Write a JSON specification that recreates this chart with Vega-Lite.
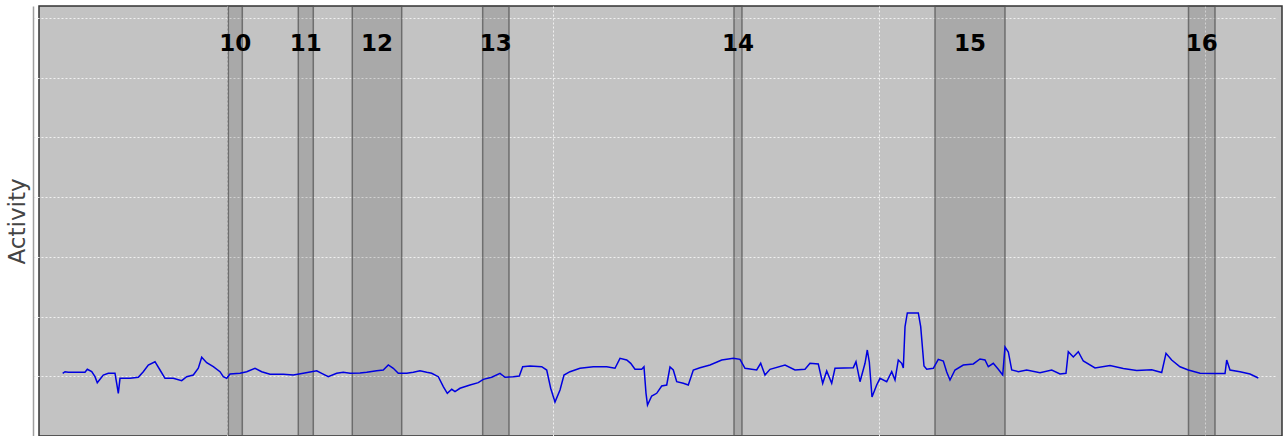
{
  "$schema": "https://vega.github.io/schema/vega-lite/v6.json",
  "width": 1243,
  "height": 430,
  "autosize": {"type": "none"},
  "padding": {"left": 39, "top": 6, "right": 2, "bottom": 0},
  "background": "#ffffff",
  "config": {
    "view": {"fill": "#c3c3c3", "stroke": "#333333", "strokeWidth": 1.5},
    "axisX": {"labels": false, "ticks": false, "domain": false, "grid": true, "gridColor": "#f0f0f0", "gridDash": [2, 2], "gridWidth": 1},
    "axisY": {"labels": false, "ticks": false, "domain": true, "domainColor": "#a0a0a0", "domainWidth": 1.5, "offset": 6, "grid": true, "gridColor": "#f0f0f0", "gridDash": [2, 2], "gridWidth": 1, "titleFont": "DejaVu Sans", "titleFontSize": 23, "titleFontWeight": "normal", "titleColor": "#444444", "titlePadding": 4}
  },
  "datasets": {
    "bands": [
      {"label": "10", "start": 100.25, "end": 104.54, "mid": 102.4},
      {"label": "11", "start": 121.72, "end": 126.32, "mid": 124.02},
      {"label": "12", "start": 138.28, "end": 153.44, "mid": 145.86},
      {"label": "13", "start": 178.28, "end": 186.35, "mid": 182.32},
      {"label": "14", "start": 255.37, "end": 257.82, "mid": 256.6},
      {"label": "15", "start": 317.03, "end": 338.5, "mid": 327.77},
      {"label": "16", "start": 394.79, "end": 402.92, "mid": 398.86}
    ],
    "activity": [
      {"t": 49.45, "v": 1.050}, {"t": 50.16, "v": 1.077}, {"t": 51.17, "v": 1.067}, {"t": 56.29, "v": 1.067},
      {"t": 57.00, "v": 1.117}, {"t": 58.35, "v": 1.077}, {"t": 59.36, "v": 0.993}, {"t": 60.06, "v": 0.893},
      {"t": 60.89, "v": 0.949}, {"t": 61.90, "v": 1.021}, {"t": 63.44, "v": 1.050}, {"t": 65.49, "v": 1.050},
      {"t": 66.01, "v": 0.882}, {"t": 66.51, "v": 0.715}, {"t": 67.03, "v": 0.966}, {"t": 70.09, "v": 0.966},
      {"t": 72.64, "v": 0.983}, {"t": 74.17, "v": 1.077}, {"t": 75.71, "v": 1.189}, {"t": 77.76, "v": 1.244},
      {"t": 79.30, "v": 1.105}, {"t": 80.83, "v": 0.966}, {"t": 83.38, "v": 0.966}, {"t": 85.95, "v": 0.926},
      {"t": 87.49, "v": 0.993}, {"t": 89.51, "v": 1.021}, {"t": 91.05, "v": 1.134}, {"t": 92.09, "v": 1.318},
      {"t": 93.62, "v": 1.227}, {"t": 95.65, "v": 1.160}, {"t": 97.70, "v": 1.077}, {"t": 98.71, "v": 0.993},
      {"t": 99.76, "v": 0.966}, {"t": 100.77, "v": 1.038}, {"t": 103.84, "v": 1.050}, {"t": 105.89, "v": 1.077},
      {"t": 108.44, "v": 1.134}, {"t": 110.49, "v": 1.077}, {"t": 113.04, "v": 1.033}, {"t": 117.12, "v": 1.033},
      {"t": 120.19, "v": 1.021}, {"t": 123.25, "v": 1.050}, {"t": 127.37, "v": 1.093}, {"t": 128.90, "v": 1.050},
      {"t": 130.92, "v": 0.993}, {"t": 133.50, "v": 1.050}, {"t": 135.52, "v": 1.067}, {"t": 137.58, "v": 1.050},
      {"t": 140.65, "v": 1.055}, {"t": 142.70, "v": 1.067}, {"t": 145.77, "v": 1.093}, {"t": 147.79, "v": 1.105},
      {"t": 149.33, "v": 1.189}, {"t": 150.86, "v": 1.134}, {"t": 152.39, "v": 1.050}, {"t": 154.97, "v": 1.050},
      {"t": 157.00, "v": 1.067}, {"t": 159.05, "v": 1.093}, {"t": 161.11, "v": 1.067}, {"t": 162.64, "v": 1.050},
      {"t": 164.67, "v": 0.993}, {"t": 166.20, "v": 0.826}, {"t": 167.43, "v": 0.715}, {"t": 168.78, "v": 0.782},
      {"t": 169.79, "v": 0.742}, {"t": 171.32, "v": 0.799}, {"t": 174.39, "v": 0.854}, {"t": 176.93, "v": 0.893},
      {"t": 178.47, "v": 0.949}, {"t": 181.05, "v": 0.983}, {"t": 183.59, "v": 1.050}, {"t": 185.13, "v": 0.983},
      {"t": 187.67, "v": 0.993}, {"t": 189.51, "v": 1.005}, {"t": 190.55, "v": 1.160}, {"t": 192.79, "v": 1.172},
      {"t": 196.38, "v": 1.160}, {"t": 197.92, "v": 1.105}, {"t": 199.14, "v": 0.799}, {"t": 200.46, "v": 0.569},
      {"t": 202.00, "v": 0.770}, {"t": 203.22, "v": 1.021}, {"t": 205.06, "v": 1.077}, {"t": 208.13, "v": 1.134},
      {"t": 212.21, "v": 1.160}, {"t": 216.32, "v": 1.160}, {"t": 218.87, "v": 1.134}, {"t": 220.40, "v": 1.301},
      {"t": 222.46, "v": 1.273}, {"t": 223.69, "v": 1.217}, {"t": 225.00, "v": 1.117}, {"t": 227.06, "v": 1.117},
      {"t": 227.76, "v": 1.160}, {"t": 228.38, "v": 0.715}, {"t": 228.84, "v": 0.519}, {"t": 230.12, "v": 0.670},
      {"t": 231.66, "v": 0.715}, {"t": 233.19, "v": 0.837}, {"t": 234.73, "v": 0.854}, {"t": 235.74, "v": 1.155},
      {"t": 236.75, "v": 1.105}, {"t": 237.80, "v": 0.909}, {"t": 239.82, "v": 0.882}, {"t": 241.35, "v": 0.854},
      {"t": 242.89, "v": 1.105}, {"t": 244.94, "v": 1.144}, {"t": 248.01, "v": 1.189}, {"t": 251.60, "v": 1.273},
      {"t": 255.16, "v": 1.301}, {"t": 257.21, "v": 1.284}, {"t": 258.75, "v": 1.134}, {"t": 262.33, "v": 1.105},
      {"t": 263.56, "v": 1.217}, {"t": 264.88, "v": 1.021}, {"t": 266.41, "v": 1.117}, {"t": 271.02, "v": 1.189},
      {"t": 274.08, "v": 1.105}, {"t": 277.15, "v": 1.117}, {"t": 278.68, "v": 1.217}, {"t": 281.23, "v": 1.206},
      {"t": 282.58, "v": 0.882}, {"t": 283.81, "v": 1.088}, {"t": 285.34, "v": 0.882}, {"t": 286.35, "v": 1.134},
      {"t": 291.97, "v": 1.144}, {"t": 292.79, "v": 1.244}, {"t": 294.02, "v": 0.909}, {"t": 295.56, "v": 1.217},
      {"t": 296.26, "v": 1.440}, {"t": 296.88, "v": 1.239}, {"t": 297.70, "v": 0.653}, {"t": 299.14, "v": 0.854},
      {"t": 300.16, "v": 0.966}, {"t": 302.21, "v": 0.909}, {"t": 303.75, "v": 1.077}, {"t": 304.76, "v": 0.938},
      {"t": 305.77, "v": 1.273}, {"t": 306.81, "v": 1.217}, {"t": 307.31, "v": 1.139}, {"t": 307.83, "v": 1.830},
      {"t": 308.54, "v": 2.060}, {"t": 311.91, "v": 2.060}, {"t": 312.64, "v": 1.830}, {"t": 313.65, "v": 1.172},
      {"t": 314.48, "v": 1.117}, {"t": 316.51, "v": 1.134}, {"t": 318.04, "v": 1.284}, {"t": 319.58, "v": 1.256},
      {"t": 320.62, "v": 1.072}, {"t": 321.63, "v": 0.938}, {"t": 323.16, "v": 1.105}, {"t": 325.71, "v": 1.189},
      {"t": 328.78, "v": 1.206}, {"t": 330.83, "v": 1.289}, {"t": 332.37, "v": 1.273}, {"t": 333.38, "v": 1.160},
      {"t": 334.91, "v": 1.217}, {"t": 336.45, "v": 1.117}, {"t": 337.80, "v": 1.021}, {"t": 338.50, "v": 1.490},
      {"t": 339.52, "v": 1.407}, {"t": 340.56, "v": 1.105}, {"t": 342.59, "v": 1.077}, {"t": 345.16, "v": 1.105},
      {"t": 349.24, "v": 1.060}, {"t": 352.83, "v": 1.105}, {"t": 355.37, "v": 1.038}, {"t": 357.21, "v": 1.050},
      {"t": 357.92, "v": 1.412}, {"t": 359.45, "v": 1.323}, {"t": 360.99, "v": 1.412}, {"t": 362.52, "v": 1.256},
      {"t": 366.11, "v": 1.139}, {"t": 370.71, "v": 1.181}, {"t": 374.79, "v": 1.130}, {"t": 378.90, "v": 1.097},
      {"t": 383.50, "v": 1.109}, {"t": 386.57, "v": 1.063}, {"t": 387.89, "v": 1.385}, {"t": 389.63, "v": 1.273},
      {"t": 392.18, "v": 1.160}, {"t": 394.73, "v": 1.105}, {"t": 398.32, "v": 1.050}, {"t": 402.92, "v": 1.047},
      {"t": 405.99, "v": 1.047}, {"t": 406.51, "v": 1.273}, {"t": 407.52, "v": 1.105}, {"t": 410.59, "v": 1.077},
      {"t": 413.66, "v": 1.038}, {"t": 416.20, "v": 0.971}
    ]
  },
  "layer": [
    {
      "data": {"name": "bands"},
      "mark": {"type": "rect", "fill": "#000000", "fillOpacity": 0.13, "stroke": "#555555", "strokeOpacity": 0.75, "strokeWidth": 1.5},
      "encoding": {
        "x": {"field": "start", "type": "quantitative", "scale": {"domain": [42.18, 423.47], "nice": false, "zero": false}, "axis": {"title": null, "values": [100, 200, 300, 400]}},
        "x2": {"field": "end"}
      }
    },
    {
      "data": {"name": "bands"},
      "mark": {"type": "text", "font": "DejaVu Sans", "fontSize": 23, "fontWeight": "bold", "color": "#000000", "align": "center", "baseline": "middle"},
      "encoding": {
        "x": {"field": "mid", "type": "quantitative", "axis": {"title": null, "values": [100, 200, 300, 400]}},
        "y": {"datum": 6.57, "type": "quantitative", "axis": {"title": "Activity", "values": [1, 2, 3, 4, 5, 6, 7]}},
        "text": {"field": "label"}
      }
    },
    {
      "data": {"name": "activity"},
      "mark": {"type": "line", "color": "#0000e0", "strokeWidth": 1.5},
      "encoding": {
        "x": {"field": "t", "type": "quantitative", "axis": {"title": null, "values": [100, 200, 300, 400]}},
        "y": {"field": "v", "type": "quantitative", "scale": {"domain": [0, 7.2], "nice": false, "zero": false}, "axis": {"title": "Activity", "values": [1, 2, 3, 4, 5, 6, 7]}}
      }
    }
  ]
}
